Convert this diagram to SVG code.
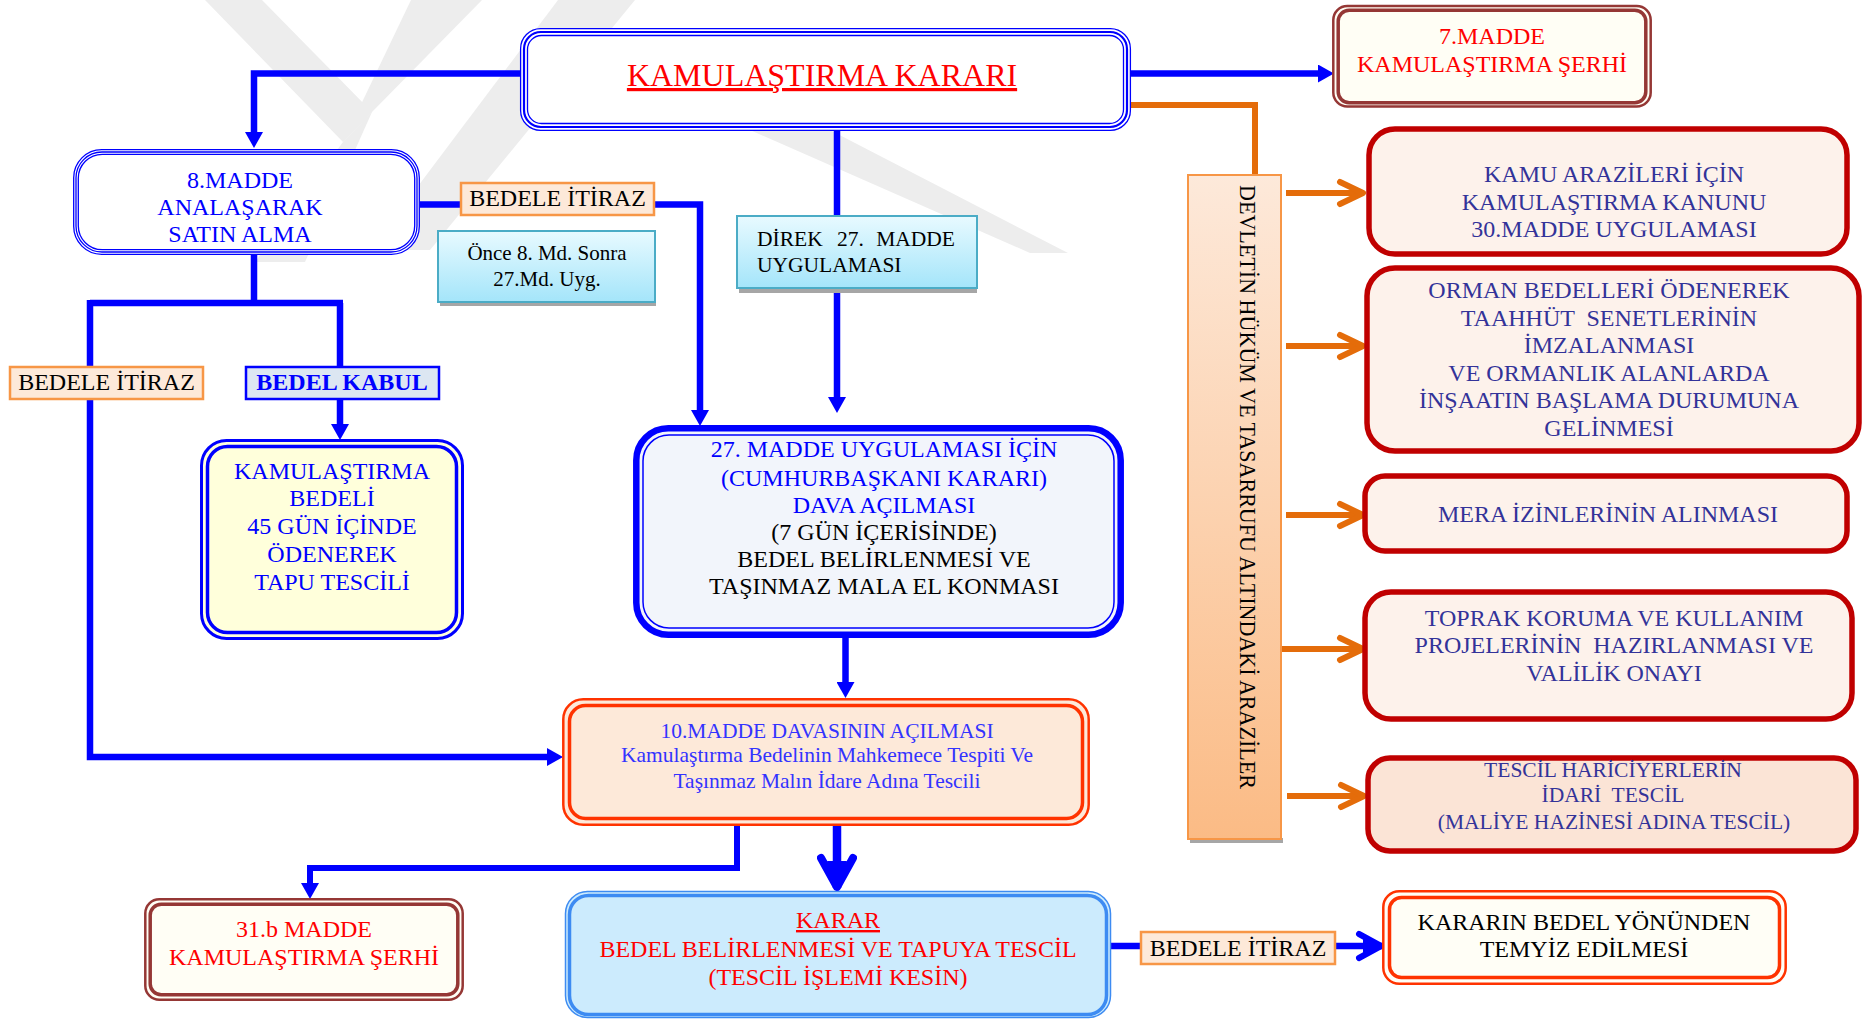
<svg xmlns="http://www.w3.org/2000/svg" width="1863" height="1019" viewBox="0 0 1863 1019">
<style>
text{font-family:"Liberation Serif","Times New Roman",serif;text-anchor:middle;font-size:24px}
.blue{fill:#0000FF}.navy{fill:#333399}.red{fill:#FF0000}.blk{fill:#000}.mid{fill:#3333FF}
.ln{fill:none;stroke:#0000FF;stroke-width:6.5;stroke-linejoin:miter}
.oln{fill:none;stroke:#E46C0A;stroke-width:6}
.lbl{fill:#FDE9D9;stroke:#F79646;stroke-width:2.5}
.rbox{fill:#FDF2EB;stroke:#C00000;stroke-width:5.5}
.wm{fill:#EDEDED}
.pre{white-space:pre}
</style>
<defs>
<linearGradient id="gCyan" x1="0" y1="0" x2="0" y2="1"><stop offset="0" stop-color="#E8FAFF"/><stop offset="1" stop-color="#A4E5FA"/></linearGradient>
<linearGradient id="gOr" x1="0" y1="0" x2="0" y2="1"><stop offset="0" stop-color="#FDE9DA"/><stop offset="1" stop-color="#FBBB85"/></linearGradient>
<marker id="tri" markerUnits="userSpaceOnUse" viewBox="0 0 16 18" markerWidth="16" markerHeight="18" refX="0" refY="9" orient="auto"><path d="M0,0 L16,9 L0,18 Z" fill="#0000FF"/></marker>
<marker id="och" markerUnits="userSpaceOnUse" viewBox="0 0 32 32" markerWidth="32" markerHeight="32" refX="29" refY="16" orient="auto"><path d="M5,5 L28,16 L5,27" fill="none" stroke="#E46C0A" stroke-width="6" stroke-linecap="round" stroke-linejoin="round"/></marker>
<marker id="bch" markerUnits="userSpaceOnUse" viewBox="0 0 32 32" markerWidth="32" markerHeight="32" refX="29" refY="16" orient="auto"><path d="M6,4 L28,16 L6,28" fill="none" stroke="#0000FF" stroke-width="6" stroke-linecap="round" stroke-linejoin="round"/><path d="M10,9 L28,16 L10,23 Z" fill="#0000FF"/></marker>
<marker id="bchL" markerUnits="userSpaceOnUse" viewBox="0 0 40 40" markerWidth="40" markerHeight="40" refX="37" refY="20" orient="auto"><path d="M7,4 L36,20 L7,36" fill="none" stroke="#0000FF" stroke-width="8" stroke-linecap="round" stroke-linejoin="round"/><path d="M10,10 L36,20 L10,30 Z" fill="#0000FF"/></marker>
</defs>
<rect width="1863" height="1019" fill="#FFFFFF"/>
<g id="watermark">
<polygon class="wm" points="205,0 262,0 372,112 343,142"/>
<polygon class="wm" points="411,0 482,0 372,112 343,142"/>
<polygon class="wm" points="343,142 372,112 305,262 255,262"/>
<polygon class="wm" points="558,0 635,0 430,250 370,250"/>
<polygon class="wm" points="750,130 795,112 1068,253 1030,253"/>
</g>
<g id="connectors">
<path class="ln" d="M520,73.5 H254 V132" marker-end="url(#tri)"/>
<path class="ln" d="M1131,73.5 H1318" marker-end="url(#tri)"/>
<path class="oln" d="M1131,105 H1255 V175"/>
<path class="ln" d="M254,255 V303 M90,303 H343 M340,303 V424" marker-end="url(#tri)"/>
<path class="ln" d="M90,300 V757 H547" marker-end="url(#tri)"/>
<path class="ln" d="M420,204.5 H461 M654,204.5 H700 V410" marker-end="url(#tri)"/>
<path class="ln" d="M837,131 V216 M837,288 V397" marker-end="url(#tri)"/>
<path class="ln" d="M845.5,638 V682" marker-end="url(#tri)"/>
<path class="ln" d="M837,826 V888" style="stroke-width:8.5" marker-end="url(#bchL)"/>
<path class="ln" d="M737,826 V868 H310 V883" style="stroke-width:6" marker-end="url(#tri)"/>
<path class="ln" d="M1108,946 H1141"/>
<path class="ln" d="M1335,946 H1382" marker-end="url(#bch)"/>
<path class="oln" d="M1286,193 H1364" marker-end="url(#och)"/>
<path class="oln" d="M1286,346 H1364" marker-end="url(#och)"/>
<path class="oln" d="M1286,515 H1364" marker-end="url(#och)"/>
<path class="oln" d="M1281,649 H1364" marker-end="url(#och)"/>
<path class="oln" d="M1287,796 H1365" marker-end="url(#och)"/>
</g>
<g id="n_karar_kamulastirma">
<rect x="520.6" y="28.6" width="609.8" height="101.8" rx="20" fill="#FFFFFF" stroke="#0000FF" stroke-width="1.3"/>
<rect x="524" y="32" width="603" height="95" rx="17" fill="none" stroke="#0000FF" stroke-width="2.2"/>
<rect x="527.5" y="35.5" width="596" height="88" rx="14" fill="none" stroke="#0000FF" stroke-width="1.3"/>
<text x="822" y="86" class="red" style="font-size:32px;text-decoration:underline">KAMULAŞTIRMA KARARI</text>
</g>
<g id="n_7madde">
<rect x="1333.3" y="6" width="317.4" height="100.5" rx="14" fill="#FFFEF5" stroke="#953735" stroke-width="2.5"/>
<rect x="1338.2" y="10.2" width="307.6" height="92.6" rx="11" fill="none" stroke="#953735" stroke-width="3.5"/>
<text x="1492" y="44" class="red">7.MADDE</text>
<text x="1492" y="72" class="red">KAMULAŞTIRMA ŞERHİ</text>
</g>
<g id="n_8madde">
<rect x="73.7" y="149.7" width="345.6" height="104.6" rx="28" fill="#FFFFFF" stroke="#0000FF" stroke-width="1.3"/>
<rect x="76" y="152" width="341" height="100" rx="26" fill="none" stroke="#0000FF" stroke-width="1.3"/>
<rect x="78.3" y="154.3" width="336.4" height="95.4" rx="24" fill="none" stroke="#0000FF" stroke-width="1.3"/>
<text x="240" y="188" class="blue">8.MADDE</text>
<text x="240" y="215" class="blue">ANALAŞARAK</text>
<text x="240" y="242" class="blue">SATIN ALMA</text>
</g>
<g id="n_bedele_itiraz_1">
<rect class="lbl" x="461" y="183" width="193" height="32"/>
<text x="557.5" y="206" class="blk">BEDELE İTİRAZ</text>
</g>
<g id="n_once">
<rect x="440" y="235" width="216" height="71" fill="#A6A6A6"/>
<rect x="438" y="231" width="217" height="71" fill="url(#gCyan)" stroke="#4BACC6" stroke-width="2"/>
<text x="547" y="260" class="blk" style="font-size:21px">Önce 8. Md. Sonra</text>
<text x="547" y="286" class="blk" style="font-size:21px">27.Md. Uyg.</text>
</g>
<g id="n_direk">
<rect x="739" y="220" width="238" height="73" fill="#A6A6A6"/>
<rect x="737" y="216" width="240" height="72" fill="url(#gCyan)" stroke="#4BACC6" stroke-width="2"/>
<text x="757" y="246" class="blk" style="font-size:21.5px;text-anchor:start">DİREK</text>
<text x="837" y="246" class="blk" style="font-size:21.5px;text-anchor:start">27.</text>
<text x="955" y="246" class="blk" style="font-size:21.5px;text-anchor:end">MADDE</text>
<text x="757" y="272" class="blk" style="font-size:21.5px;text-anchor:start">UYGULAMASI</text>
</g>
<g id="n_bedele_itiraz_2">
<rect class="lbl" x="10" y="367" width="193" height="32"/>
<text x="106.5" y="390" class="blk">BEDELE İTİRAZ</text>
</g>
<g id="n_bedel_kabul">
<rect x="246" y="367" width="193" height="32" fill="#DCE6F2" stroke="#0000FF" stroke-width="2.5"/>
<text x="342" y="390" class="blue" style="font-weight:bold">BEDEL KABUL</text>
</g>
<g id="n_bedel_odeme">
<rect x="201.5" y="440.5" width="261" height="198" rx="25" fill="#FFFFDB" stroke="#0000FF" stroke-width="3"/>
<rect x="207.5" y="446.5" width="249" height="186" rx="20" fill="none" stroke="#0000FF" stroke-width="3.5"/>
<text x="332" y="479" class="blue">KAMULAŞTIRMA</text>
<text x="332" y="506" class="blue">BEDELİ</text>
<text x="332" y="534" class="blue">45 GÜN İÇİNDE</text>
<text x="332" y="562" class="blue">ÖDENEREK</text>
<text x="332" y="590" class="blue">TAPU TESCİLİ</text>
</g>
<g id="n_27madde">
<rect x="636.3" y="428.3" width="484.4" height="206.4" rx="32" fill="#F2F5FB" stroke="#0000FF" stroke-width="6.5"/>
<rect x="643" y="435" width="471" height="193" rx="26" fill="none" stroke="#0000FF" stroke-width="1.5"/>
<text x="884" y="457" class="blue">27. MADDE UYGULAMASI İÇİN</text>
<text x="884" y="486" class="blue">(CUMHURBAŞKANI KARARI)</text>
<text x="884" y="513" class="blue">DAVA AÇILMASI</text>
<text x="884" y="540" class="blk">(7 GÜN İÇERİSİNDE)</text>
<text x="884" y="567" class="blk">BEDEL BELİRLENMESİ VE</text>
<text x="884" y="594" class="blk">TAŞINMAZ MALA EL KONMASI</text>
</g>
<g id="n_10madde">
<rect x="563.3" y="699.3" width="525.4" height="125.4" rx="20" fill="#FDE9D9" stroke="#FF3300" stroke-width="2.5"/>
<rect x="569.5" y="705.5" width="513" height="113" rx="16" fill="none" stroke="#FF3300" stroke-width="3.5"/>
<text x="827" y="738" class="mid" style="font-size:21.5px">10.MADDE DAVASININ AÇILMASI</text>
<text x="827" y="762" class="mid" style="font-size:21.5px">Kamulaştırma Bedelinin Mahkemece Tespiti Ve</text>
<text x="827" y="788" class="mid" style="font-size:21.5px">Taşınmaz Malın İdare Adına Tescili</text>
</g>
<g id="n_31b">
<rect x="145.3" y="899.3" width="317.4" height="100.4" rx="14" fill="#FFFEF5" stroke="#953735" stroke-width="2.5"/>
<rect x="150.2" y="904.2" width="307.6" height="90.6" rx="11" fill="none" stroke="#953735" stroke-width="3.5"/>
<text x="304" y="937" class="red">31.b MADDE</text>
<text x="304" y="965" class="red">KAMULAŞTIRMA ŞERHİ</text>
</g>
<g id="n_karar">
<rect x="565.5" y="891.5" width="545" height="126" rx="22" fill="#CCEBFD" stroke="#3D8BF2" stroke-width="1.5"/>
<rect x="569.5" y="895.5" width="537" height="119" rx="19" fill="none" stroke="#3D8BF2" stroke-width="3.5"/>
<text x="838" y="928" class="red" style="text-decoration:underline">KARAR</text>
<text x="838" y="957" class="red">BEDEL BELİRLENMESİ VE TAPUYA TESCİL</text>
<text x="838" y="985" class="red">(TESCİL İŞLEMİ KESİN)</text>
</g>
<g id="n_bedele_itiraz_3">
<rect class="lbl" x="1141" y="932" width="194" height="32"/>
<text x="1238" y="956" class="blk">BEDELE İTİRAZ</text>
</g>
<g id="n_temyiz">
<rect x="1383.3" y="891.3" width="402.4" height="92.4" rx="16" fill="#FFFEF6" stroke="#FF3300" stroke-width="2.5"/>
<rect x="1389.5" y="897.5" width="390" height="80" rx="12" fill="none" stroke="#FF3300" stroke-width="3.5"/>
<text x="1584" y="930" class="blk">KARARIN BEDEL YÖNÜNDEN</text>
<text x="1584" y="957" class="blk">TEMYİZ EDİLMESİ</text>
</g>
<g id="n_devlet">
<rect x="1190" y="838" width="93" height="5" fill="#A6A6A6"/>
<rect x="1188" y="175" width="93" height="664" fill="url(#gOr)" stroke="#F79646" stroke-width="2"/>
<text transform="translate(1240,185) rotate(90)" class="blk" style="text-anchor:start" textLength="604" lengthAdjust="spacingAndGlyphs">DEVLETİN HÜKÜM VE TASARRUFU ALTINDAKİ ARAZİLER</text>
</g>
<g id="n_kamu_arazi">
<rect class="rbox" x="1369" y="129" width="478" height="125" rx="26"/>
<text x="1614" y="182" class="navy">KAMU ARAZİLERİ İÇİN</text>
<text x="1614" y="210" class="navy">KAMULAŞTIRMA KANUNU</text>
<text x="1614" y="237" class="navy">30.MADDE UYGULAMASI</text>
</g>
<g id="n_orman">
<rect class="rbox" x="1367" y="268" width="492" height="183" rx="28"/>
<text x="1609" y="298" class="navy">ORMAN BEDELLERİ ÖDENEREK</text>
<text x="1609" y="325.5" class="navy pre">TAAHHÜT  SENETLERİNİN</text>
<text x="1609" y="353" class="navy">İMZALANMASI</text>
<text x="1609" y="380.5" class="navy">VE ORMANLIK ALANLARDA</text>
<text x="1609" y="408" class="navy">İNŞAATIN BAŞLAMA DURUMUNA</text>
<text x="1609" y="435.5" class="navy">GELİNMESİ</text>
</g>
<g id="n_mera">
<rect class="rbox" x="1365" y="476" width="482" height="75" rx="20"/>
<text x="1608" y="522" class="navy">MERA İZİNLERİNİN ALINMASI</text>
</g>
<g id="n_toprak">
<rect class="rbox" x="1365" y="592" width="487" height="127" rx="26"/>
<text x="1614" y="626" class="navy">TOPRAK KORUMA VE KULLANIM</text>
<text x="1614" y="653" class="navy pre">PROJELERİNİN  HAZIRLANMASI VE</text>
<text x="1614" y="681" class="navy">VALİLİK ONAYI</text>
</g>
<g id="n_tescil_harici">
<rect class="rbox" x="1368" y="758" width="488" height="93" rx="22" style="fill:#FBE4D6"/>
<text x="1613" y="777" class="navy" style="font-size:21.5px">TESCİL HARİCİYERLERİN</text>
<text x="1613" y="802" class="navy pre" style="font-size:21.5px">İDARİ  TESCİL</text>
<text x="1614" y="829" class="navy" style="font-size:21.5px">(MALİYE HAZİNESİ ADINA TESCİL)</text>
</g>
</svg>
